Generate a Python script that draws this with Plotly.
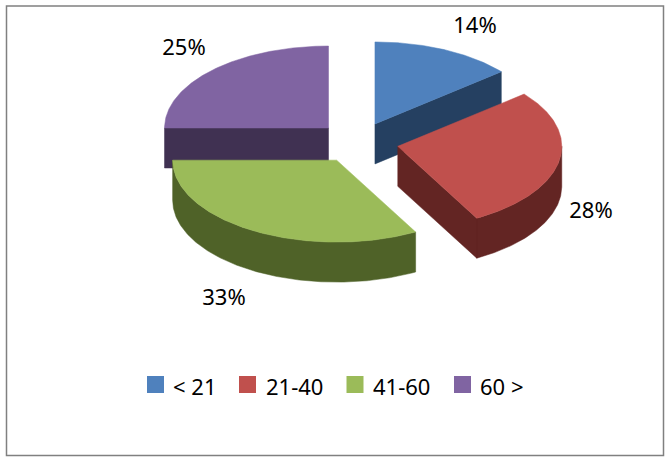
import numpy as np
import plotly.graph_objects as go

categories = ["< 21", "21-40", "41-60", "60 >"]
shares = [14, 28, 33, 25]
top_colors = ["#4F81BD", "#C0504D", "#9BBB59", "#8064A2"]
wall_colors = ["#254061", "#632523", "#4F6228", "#403152"]

# The pie is drawn in pixel-like units so the y axis runs downwards.
W, H = 671, 462
CX, CY = 357.5, 142.5
RX, RY = 164, 82
DEPTH = 40
EXPLODE = 0.25
FONT = "Noto Sans"
FONT_SIZE = 22

LABEL_POS = [(475, 27), (591, 212), (224, 299), (184, 49)]
LEGEND_X = [155.5, 247.5, 355, 462.5]
LEGEND_TEXT_X = [172, 265, 372, 479]
LEGEND_Y = 384.5
LEGEND_TEXT_Y = 386


def _rim(cx, cy, t0, t1):
    # Points of the ellipse, angle measured clockwise from twelve o'clock.
    t = np.radians(np.linspace(t0, t1, max(2, int(abs(t1 - t0)) * 2)))
    return cx + RX * np.sin(t), cy - RY * np.cos(t)


def _face(cx, cy, t):
    ex, ey = _rim(cx, cy, t, t)
    return [cx, ex[0], ex[0], cx, cx, None], [cy, ey[0], ey[0] + DEPTH, cy + DEPTH, cy, None]


def _wall(cx, cy, t0, t1):
    # Only the faces that look towards the viewer, split with None so each fills alone.
    xs, ys = [], []
    if 180 < t0 < 360:
        fx, fy = _face(cx, cy, t0)
        xs += fx
        ys += fy
    if 0 < t1 < 180:
        fx, fy = _face(cx, cy, t1)
        xs += fx
        ys += fy
    a, b = max(t0, 90), min(t1, 270)
    if a < b:
        rx, ry = _rim(cx, cy, a, b)
        xs += list(rx) + list(rx[::-1]) + [rx[0]]
        ys += list(ry) + list(ry[::-1] + DEPTH) + [ry[0]]
    return xs, ys


fig = go.Figure()

edges = np.cumsum([0] + shares) / sum(shares) * 360
# back slices first, the front ones overlap them
for i in [0, 3, 1, 2]:
    t0, t1 = edges[i], edges[i + 1]
    mid = np.radians((t0 + t1) / 2)
    cx = CX + EXPLODE * RX * np.sin(mid)
    cy = CY - EXPLODE * RY * np.cos(mid)

    wx, wy = _wall(cx, cy, t0, t1)
    fig.add_trace(go.Scatter(x=wx, y=wy, mode="lines", fill="toself", fillcolor=wall_colors[i],
                             line=dict(color=wall_colors[i], width=0.5), hoverinfo="skip", showlegend=False))

    rx, ry = _rim(cx, cy, t0, t1)
    fig.add_trace(go.Scatter(x=[cx, *rx, cx], y=[cy, *ry, cy], mode="lines", fill="toself",
                             fillcolor=top_colors[i], line=dict(color=top_colors[i], width=0.5),
                             name=categories[i], showlegend=False))

fig.add_trace(go.Scatter(x=[p[0] for p in LABEL_POS], y=[p[1] for p in LABEL_POS], mode="text",
                         text=[f"{v}%" for v in shares], textposition="middle center",
                         textfont=dict(family=FONT, size=FONT_SIZE, color="black"),
                         hoverinfo="skip", showlegend=False))

for i, name in enumerate(categories):
    fig.add_trace(go.Scatter(x=[LEGEND_X[i]], y=[LEGEND_Y], mode="markers",
                             marker=dict(symbol="square", size=17, color=top_colors[i]),
                             name=name, showlegend=False))
    fig.add_annotation(x=LEGEND_TEXT_X[i], y=LEGEND_TEXT_Y, text=name, showarrow=False,
                       xanchor="left", yanchor="middle", xshift=-1,
                       font=dict(family=FONT, size=FONT_SIZE, color="black"))

fig.update_layout(
    width=W, height=H, margin=dict(l=0, r=0, t=0, b=0),
    paper_bgcolor="white", plot_bgcolor="white",
    xaxis=dict(range=[0, W], visible=False, fixedrange=True),
    yaxis=dict(range=[H, 0], visible=False, fixedrange=True),
    shapes=[dict(type="rect", x0=6.5, y0=6, x1=663.5, y1=455.5, layer="below",
                 line=dict(color="#808080", width=1.5))],
)

fig.write_html("out.html", config=dict(displayModeBar=False), post_script="document.body.style.margin='0';")
